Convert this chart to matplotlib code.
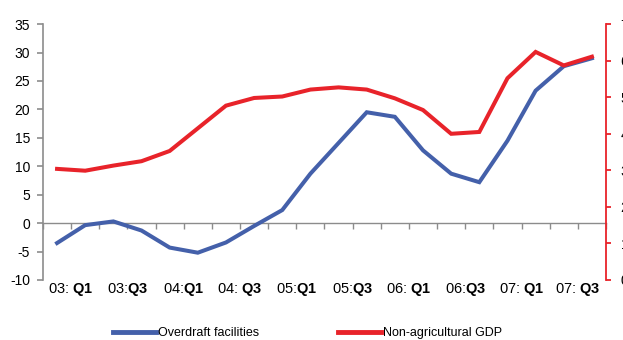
import matplotlib.pyplot as plt
from matplotlib.lines import Line2D
from matplotlib.transforms import blended_transform_factory

plt.rcParams['font.family'] = ['Liberation Sans', 'DejaVu Sans']
plt.rcParams['mathtext.fontset'] = 'custom'
plt.rcParams['mathtext.rm'] = 'Liberation Sans'
plt.rcParams['mathtext.bf'] = 'Liberation Sans:bold'
plt.rcParams['axes.unicode_minus'] = False

# quarterly series, 2003 Q1 .. 2007 Q4
quarters = [f"{y:02d}Q{q}" for y in range(3, 8) for q in range(1, 5)]
overdraft = [-3.5, -0.35, 0.3, -1.3, -4.3, -5.2, -3.4, -0.5, 2.3, 8.7,
             14.1, 19.5, 18.7, 12.8, 8.7, 7.2, 14.5, 23.3, 27.6, 29.0]
gdp = [3.04, 2.99, 3.13, 3.25, 3.53, 4.15, 4.77, 4.98, 5.02, 5.21,
       5.27, 5.21, 4.97, 4.65, 4.0, 4.05, 5.52, 6.24, 5.87, 6.11]
tick_labels = ["03: Q1", "03:Q3", "04:Q1", "04: Q3", "05:Q1",
               "05:Q3", "06: Q1", "06:Q3", "07: Q1", "07: Q3"]

blue = '#4460AA'
red = '#E8232A'
grey = '#8C8C8C'

fig = plt.figure(figsize=(6.23, 3.4), dpi=100)
ax = fig.add_axes([0.069, 0.1765, 0.9037, 0.7525])
ax2 = ax.twinx()

x = list(range(len(quarters)))
ax.plot(x, overdraft, color=blue, lw=2.9, solid_joinstyle='miter', zorder=3)
ax2.plot(x, gdp, color=red, lw=2.9, solid_joinstyle='miter', zorder=3)

ax.set_xlim(-0.5, len(quarters) - 0.5)
ax.set_ylim(-10, 35)
ax.set_yticks(range(-10, 36, 5))
ax2.set_ylim(0, 7)
ax2.set_yticks(range(0, 8))

# left axis
for s in ['top', 'right']:
    ax.spines[s].set_visible(False)
ax.spines['left'].set_color(grey)
ax.spines['left'].set_linewidth(1.2)
ax.tick_params(axis='y', direction='out', length=4.3, width=1.2, color=grey,
               pad=5, labelsize=10)

# category axis sits on zero
ax.spines['bottom'].set_position(('data', 0))
ax.spines['bottom'].set_color(grey)
ax.spines['bottom'].set_linewidth(1.0)
ax.set_xticks([i - 0.5 for i in range(len(quarters) + 1)])
ax.tick_params(axis='x', direction='out', length=4.3, width=1.0, color=grey,
               labelbottom=False)

# right axis in red
for s in ['top', 'left', 'bottom']:
    ax2.spines[s].set_visible(False)
ax2.spines['right'].set_color(red)
ax2.spines['right'].set_linewidth(1.3)
ax2.tick_params(axis='y', direction='out', length=3.5, width=1.3, color=red,
                pad=7, labelsize=10)

trans = blended_transform_factory(ax.transData, ax.transAxes)
for k, lab in enumerate(tick_labels):
    yr, q = lab.split('Q')
    ax.text(2 * k + 0.5, -0.037, yr + r'$\mathbf{Q' + q + '}$', transform=trans,
            ha='center', va='center', fontsize=10.5)

handles = [Line2D([], [], color=blue, lw=3.5),
           Line2D([], [], color=red, lw=3.5)]
fig.legend(handles, ['Overdraft facilities', 'Non-agricultural GDP'],
           loc='center', bbox_to_anchor=(0.493, 0.02), ncol=2, frameon=False,
           fontsize=9, handlelength=3.5, handletextpad=0.1, columnspacing=6.3,
           borderpad=0.1)

fig.savefig('out.png', dpi=100)
